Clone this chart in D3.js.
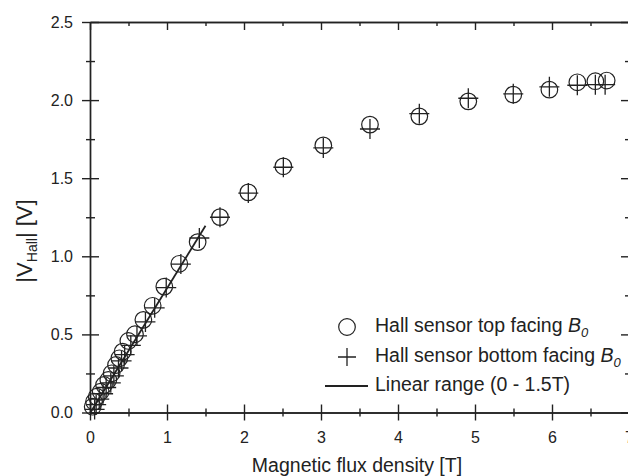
<!DOCTYPE html>
<html>
<head>
  <meta charset="utf-8">
  <title>Hall voltage vs magnetic flux density</title>
  <script src="https://d3js.org/d3.v7.min.js"></script>
  <style>
    html, body {
      margin: 0;
      background: #fff;
    }
    svg text {
      font-family: "Liberation Sans", Arial, sans-serif;
      fill: #222;
    }
  </style>
</head>
<body>
  <svg id="chart" width="628" height="476"></svg>
  <script>
  // Hall sensor top facing B0 (circles)
  const topB = [0.035, 0.052, 0.087, 0.139, 0.182, 0.238, 0.281, 0.338, 0.381, 0.424, 0.498, 0.584, 0.693, 0.814, 0.965, 1.16, 1.398, 1.688, 2.056, 2.511, 3.03, 3.636, 4.277, 4.913, 5.497, 5.966, 6.329, 6.563, 6.71];
  const topV = [0.037, 0.069, 0.101, 0.133, 0.176, 0.208, 0.251, 0.304, 0.347, 0.39, 0.458, 0.501, 0.593, 0.683, 0.806, 0.952, 1.091, 1.251, 1.409, 1.576, 1.71, 1.843, 1.896, 1.992, 2.035, 2.067, 2.114, 2.121, 2.125];

  // Hall sensor bottom facing B0 (crosses)
  const botB = [0.06, 0.08, 0.12, 0.17, 0.21, 0.27, 0.31, 0.37, 0.41, 0.45, 0.53, 0.61, 0.72, 0.84, 0.99, 1.18, 1.42, 1.688, 2.056, 2.511, 3.03, 3.636, 4.277, 4.913, 5.497, 5.966, 6.329, 6.563, 6.69];
  const botV = [0.02, 0.05, 0.085, 0.12, 0.16, 0.19, 0.235, 0.285, 0.33, 0.37, 0.43, 0.49, 0.58, 0.67, 0.80, 0.95, 1.117, 1.25, 1.405, 1.57, 1.694, 1.815, 1.913, 2.012, 2.04, 2.085, 2.095, 2.099, 2.099];

  // linear fit over 0 - 1.5 T
  const fitB = [0, 1.5];
  const fitV = [-0.005, 1.195];

  const xMajor = [0, 1, 2, 3, 4, 5, 6, 7];
  const xMinor = [0.5, 1.5, 2.5, 3.5, 4.5, 5.5, 6.5];
  const yMajor = [0, 0.5, 1.0, 1.5, 2.0, 2.5];
  const yMinor = [0.25, 0.75, 1.25, 1.75, 2.25];

  const legendLabels = ["Hall sensor top facing ", "Hall sensor bottom facing ", "Linear range (0 - 1.5T)"];

  const svg = d3.select("#chart");
  const ink = "#222";

  const x = d3.scaleLinear().domain([0, 7]).range([90, 629]);
  const y = d3.scaleLinear().domain([0, 2.5]).range([412.5, 22]);

  // frame axes
  const bottom = svg.append("g").attr("transform", `translate(0,${y(0)})`)
    .call(d3.axisBottom(x).tickValues(xMajor).tickSize(8).tickSizeOuter(0).tickPadding(11).tickFormat(d3.format("d")));
  bottom.selectAll(".tick line").attr("y1", -8);
  const bottomMinor = svg.append("g").attr("transform", `translate(0,${y(0)})`)
    .call(d3.axisBottom(x).tickValues(xMinor).tickSize(4).tickSizeOuter(0).tickFormat(""));
  bottomMinor.selectAll(".tick line").attr("y1", -4);

  const left = svg.append("g").attr("transform", `translate(${x(0)},0)`)
    .call(d3.axisLeft(y).tickValues(yMajor).tickSize(8).tickSizeOuter(0).tickPadding(9).tickFormat(d3.format(".1f")));
  left.selectAll(".tick line").attr("x1", 9);
  const leftMinor = svg.append("g").attr("transform", `translate(${x(0)},0)`)
    .call(d3.axisLeft(y).tickValues(yMinor).tickSize(4).tickSizeOuter(0).tickFormat(""));
  leftMinor.selectAll(".tick line").attr("x1", 5);

  svg.append("g").attr("transform", `translate(0,${y(2.5)})`)
    .call(d3.axisTop(x).tickValues(xMajor).tickSize(-8).tickSizeOuter(0).tickFormat(""));
  svg.append("g").attr("transform", `translate(0,${y(2.5)})`)
    .call(d3.axisTop(x).tickValues(xMinor).tickSize(-4).tickSizeOuter(0).tickFormat(""));
  svg.append("g").attr("transform", `translate(${x(7)},0)`)
    .call(d3.axisRight(y).tickValues(yMajor).tickSize(-8).tickSizeOuter(0).tickFormat(""));
  svg.append("g").attr("transform", `translate(${x(7)},0)`)
    .call(d3.axisRight(y).tickValues(yMinor).tickSize(-4).tickSizeOuter(0).tickFormat(""));

  svg.selectAll(".domain, .tick line").attr("stroke", ink).attr("stroke-width", 1.4);
  svg.selectAll(".tick text").attr("font-size", 16).attr("fill", ink)
    .style("font-family", '"Liberation Sans", Arial, sans-serif');

  // axis titles
  svg.append("text")
    .attr("x", 357).attr("y", 472)
    .attr("text-anchor", "middle")
    .attr("font-size", 19.5)
    .text("Magnetic flux density [T]");

  const yl = svg.append("text")
    .attr("transform", "translate(32,241) rotate(-90)")
    .attr("text-anchor", "middle")
    .attr("font-size", 22);
  yl.append("tspan").text("|V");
  yl.append("tspan").attr("font-size", 14).attr("dy", 5).text("Hall");
  yl.append("tspan").attr("dy", -5).text("| [V]");

  // linear fit
  const line = d3.line().x(d => x(d[0])).y(d => y(d[1]));
  svg.append("path")
    .datum(d3.zip(fitB, fitV))
    .attr("d", line)
    .attr("fill", "none")
    .attr("stroke", ink)
    .attr("stroke-width", 1.8);

  // circles
  svg.append("g").selectAll("circle")
    .data(d3.zip(topB, topV))
    .join("circle")
    .attr("cx", d => x(d[0]))
    .attr("cy", d => y(d[1]))
    .attr("r", 8.3)
    .attr("fill", "none")
    .attr("stroke", ink)
    .attr("stroke-width", 1.2);

  // crosses
  const cross = (cx, cy, h) => `M${cx - h},${cy}H${cx + h}M${cx},${cy - h}V${cy + h}`;
  svg.append("g").selectAll("path")
    .data(d3.zip(botB, botV))
    .join("path")
    .attr("d", d => cross(x(d[0]), y(d[1]), 10))
    .attr("fill", "none")
    .attr("stroke", ink)
    .attr("stroke-width", 1.3);

  // legend
  const lg = svg.append("g");
  const lx = 347, ly = [327, 357, 386];
  lg.append("circle").attr("cx", lx).attr("cy", ly[0]).attr("r", 8.3)
    .attr("fill", "none").attr("stroke", ink).attr("stroke-width", 1.2);
  lg.append("path").attr("d", cross(lx, ly[1], 9))
    .attr("fill", "none").attr("stroke", ink).attr("stroke-width", 1.3);
  lg.append("line").attr("x1", 325).attr("x2", 368).attr("y1", ly[2]).attr("y2", ly[2])
    .attr("stroke", ink).attr("stroke-width", 1.8);

  legendLabels.forEach((s, i) => {
    const t = lg.append("text")
      .attr("x", 375).attr("y", ly[i] + 5)
      .attr("font-size", 19.5)
      .text(s);
    if (i < 2) {
      t.append("tspan").attr("font-style", "italic").text("B");
      t.append("tspan").attr("font-style", "italic").attr("font-size", 13).attr("dy", 5).text("0");
    }
  });
  </script>
</body>
</html>
